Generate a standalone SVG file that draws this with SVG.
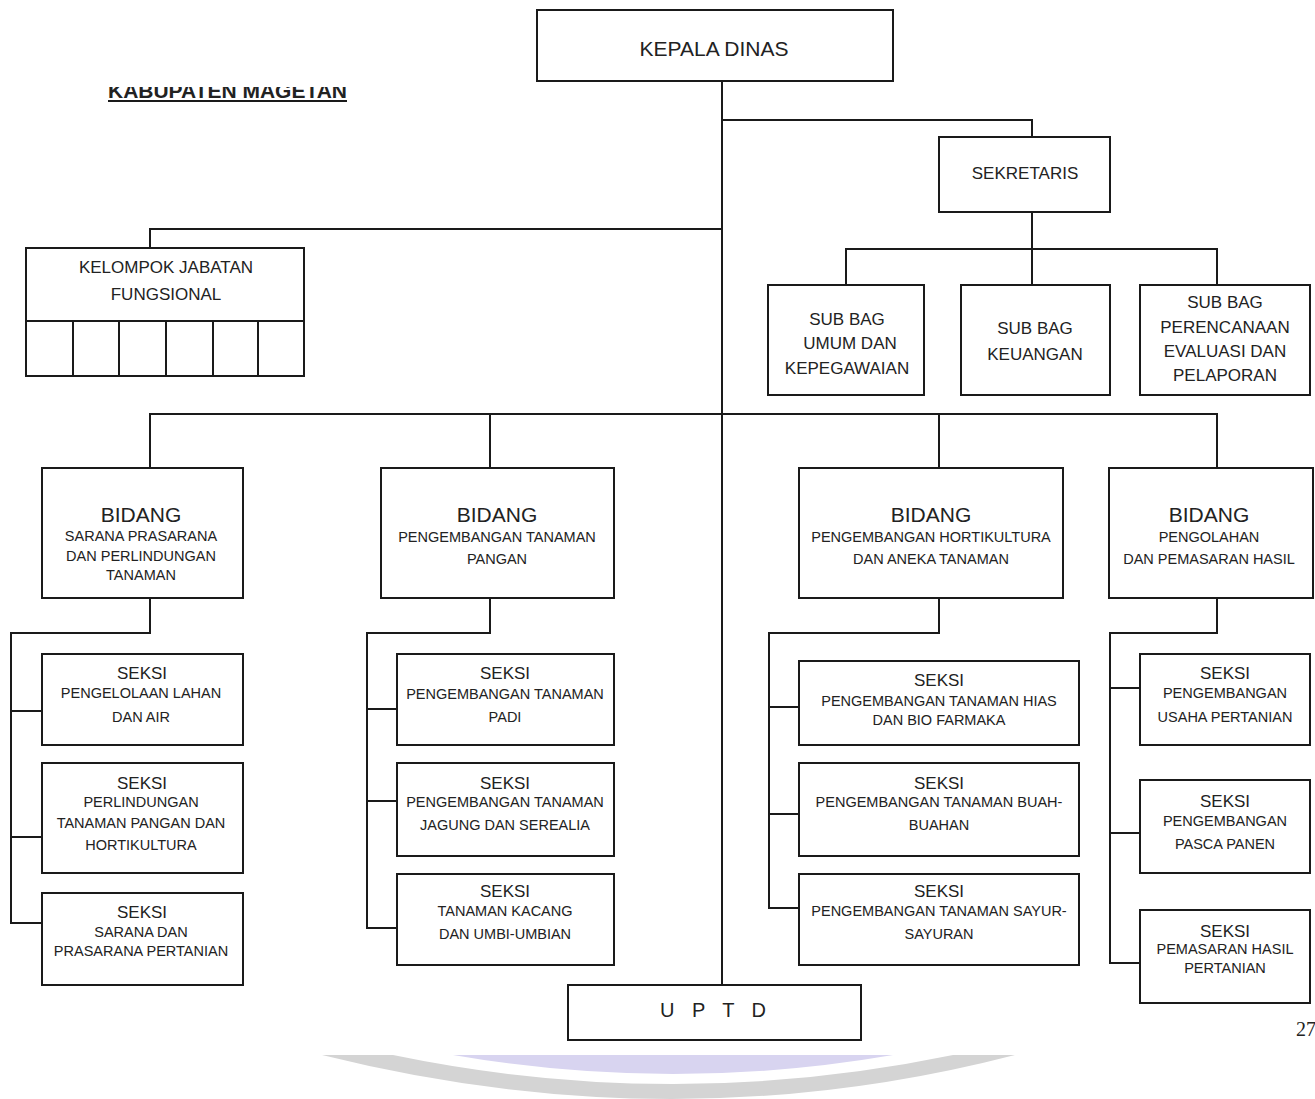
<svg xmlns="http://www.w3.org/2000/svg" width="1315" height="1099" viewBox="0 0 1315 1099">
<style>
.box{fill:#fff;stroke:#1a1a1a;stroke-width:2}
.ln{fill:none;stroke:#1a1a1a;stroke-width:2}
text{font-family:"Liberation Sans",Arial,sans-serif;text-anchor:middle;fill:#222}
.k{font-size:21px}
.sb{font-size:17px}
.h{font-size:21px}
.s{font-size:17px}
.m{font-size:14.5px}
</style>
<defs>
<clipPath id="tclip"><rect x="100" y="87" width="260" height="17"/></clipPath>
</defs>
<rect width="1315" height="1099" fill="#fff"/>

<g id="title" clip-path="url(#tclip)">
<text x="108" y="98" textLength="239" lengthAdjust="spacingAndGlyphs" style="text-anchor:start;font-size:21px;font-weight:bold" fill="#222">KABUPATEN MAGETAN</text>
<line x1="108" y1="101" x2="347" y2="101" class="ln"/>
</g>

<g id="connectors">
<path class="ln" d="M722,81 V985"/>
<path class="ln" d="M722,120 H1032 V137"/>
<path class="ln" d="M1032,212 V285"/>
<path class="ln" d="M846,285 V249 H1217 V285"/>
<path class="ln" d="M722,229 H150 V248"/>
<path class="ln" d="M150,468 V414 H1217 V468"/>
<path class="ln" d="M490,414 V468"/>
<path class="ln" d="M939,414 V468"/>
<path class="ln" d="M150,598 V633 H11 V923 H42"/>
<path class="ln" d="M11,711 H42 M11,837 H42"/>
<path class="ln" d="M490,598 V633 H367 V928 H397"/>
<path class="ln" d="M367,709 H397 M367,801 H397"/>
<path class="ln" d="M939,598 V633 H769 V908 H799"/>
<path class="ln" d="M769,707 H799 M769,814 H799"/>
<path class="ln" d="M1217,598 V633 H1110 V963 H1140"/>
<path class="ln" d="M1110,688 H1140 M1110,833 H1140"/>
</g>

<g id="kepala-dinas">
<rect class="box" x="537" y="10" width="356" height="71"/>
<text class="k" x="714" y="56">KEPALA DINAS</text>
</g>

<g id="sekretaris">
<rect class="box" x="939" y="137" width="171" height="75"/>
<text class="sb" x="1025" y="179">SEKRETARIS</text>
</g>

<g id="subbag-umum">
<rect class="box" x="768" y="285" width="156" height="110"/>
<text class="sb" x="847" y="325">SUB BAG</text>
<text class="sb" x="850" y="349">UMUM DAN</text>
<text class="sb" x="847" y="374">KEPEGAWAIAN</text>
</g>

<g id="subbag-keuangan">
<rect class="box" x="961" y="285" width="149" height="110"/>
<text class="sb" x="1035" y="334">SUB BAG</text>
<text class="sb" x="1035" y="360">KEUANGAN</text>
</g>

<g id="subbag-perencanaan">
<rect class="box" x="1140" y="285" width="170" height="110"/>
<text class="sb" x="1225" y="308">SUB BAG</text>
<text class="sb" x="1225" y="333">PERENCANAAN</text>
<text class="sb" x="1225" y="357">EVALUASI DAN</text>
<text class="sb" x="1225" y="381">PELAPORAN</text>
</g>

<g id="kelompok-jabatan">
<rect class="box" x="26" y="248" width="278" height="128"/>
<path class="ln" d="M26,321 H304 M73,321 V376 M119,321 V376 M166,321 V376 M213,321 V376 M258,321 V376"/>
<text class="sb" x="166" y="273">KELOMPOK JABATAN</text>
<text class="sb" x="166" y="300">FUNGSIONAL</text>
</g>

<g id="bidang-sarana">
<rect class="box" x="42" y="468" width="201" height="130"/>
<text class="h" x="141" y="522">BIDANG</text>
<text class="m" x="141" y="541">SARANA PRASARANA</text>
<text class="m" x="141" y="561">DAN PERLINDUNGAN</text>
<text class="m" x="141" y="580">TANAMAN</text>
</g>

<g id="bidang-pangan">
<rect class="box" x="381" y="468" width="233" height="130"/>
<text class="h" x="497" y="522">BIDANG</text>
<text class="m" x="497" y="542">PENGEMBANGAN TANAMAN</text>
<text class="m" x="497" y="564">PANGAN</text>
</g>

<g id="bidang-hortikultura">
<rect class="box" x="799" y="468" width="264" height="130"/>
<text class="h" x="931" y="522">BIDANG</text>
<text class="m" x="931" y="542">PENGEMBANGAN HORTIKULTURA</text>
<text class="m" x="931" y="564">DAN ANEKA TANAMAN</text>
</g>

<g id="bidang-pengolahan">
<rect class="box" x="1109" y="468" width="204" height="130"/>
<text class="h" x="1209" y="522">BIDANG</text>
<text class="m" x="1209" y="542">PENGOLAHAN</text>
<text class="m" x="1209" y="564">DAN PEMASARAN HASIL</text>
</g>

<g id="seksi-lahan-air">
<rect class="box" x="42" y="654" width="201" height="91"/>
<text class="s" x="142" y="679">SEKSI</text>
<text class="m" x="141" y="698">PENGELOLAAN LAHAN</text>
<text class="m" x="141" y="722">DAN AIR</text>
</g>
<g id="seksi-perlindungan">
<rect class="box" x="42" y="763" width="201" height="110"/>
<text class="s" x="142" y="789">SEKSI</text>
<text class="m" x="141" y="807">PERLINDUNGAN</text>
<text class="m" x="141" y="828">TANAMAN PANGAN DAN</text>
<text class="m" x="141" y="850">HORTIKULTURA</text>
</g>
<g id="seksi-sarana">
<rect class="box" x="42" y="893" width="201" height="92"/>
<text class="s" x="142" y="918">SEKSI</text>
<text class="m" x="141" y="937">SARANA DAN</text>
<text class="m" x="141" y="956">PRASARANA PERTANIAN</text>
</g>

<g id="seksi-padi">
<rect class="box" x="397" y="654" width="217" height="91"/>
<text class="s" x="505" y="679">SEKSI</text>
<text class="m" x="505" y="699">PENGEMBANGAN TANAMAN</text>
<text class="m" x="505" y="722">PADI</text>
</g>
<g id="seksi-jagung">
<rect class="box" x="397" y="763" width="217" height="93"/>
<text class="s" x="505" y="789">SEKSI</text>
<text class="m" x="505" y="807">PENGEMBANGAN TANAMAN</text>
<text class="m" x="505" y="830">JAGUNG DAN SEREALIA</text>
</g>
<g id="seksi-kacang">
<rect class="box" x="397" y="874" width="217" height="91"/>
<text class="s" x="505" y="897">SEKSI</text>
<text class="m" x="505" y="916">TANAMAN KACANG</text>
<text class="m" x="505" y="939">DAN UMBI-UMBIAN</text>
</g>

<g id="seksi-hias">
<rect class="box" x="799" y="661" width="280" height="84"/>
<text class="s" x="939" y="686">SEKSI</text>
<text class="m" x="939" y="706">PENGEMBANGAN TANAMAN HIAS</text>
<text class="m" x="939" y="725">DAN BIO FARMAKA</text>
</g>
<g id="seksi-buah">
<rect class="box" x="799" y="763" width="280" height="93"/>
<text class="s" x="939" y="789">SEKSI</text>
<text class="m" x="939" y="807">PENGEMBANGAN TANAMAN BUAH-</text>
<text class="m" x="939" y="830">BUAHAN</text>
</g>
<g id="seksi-sayur">
<rect class="box" x="799" y="874" width="280" height="91"/>
<text class="s" x="939" y="897">SEKSI</text>
<text class="m" x="939" y="916">PENGEMBANGAN TANAMAN SAYUR-</text>
<text class="m" x="939" y="939">SAYURAN</text>
</g>

<g id="seksi-usaha">
<rect class="box" x="1140" y="654" width="170" height="91"/>
<text class="s" x="1225" y="679">SEKSI</text>
<text class="m" x="1225" y="698">PENGEMBANGAN</text>
<text class="m" x="1225" y="722">USAHA PERTANIAN</text>
</g>
<g id="seksi-pasca">
<rect class="box" x="1140" y="780" width="170" height="93"/>
<text class="s" x="1225" y="807">SEKSI</text>
<text class="m" x="1225" y="826">PENGEMBANGAN</text>
<text class="m" x="1225" y="849">PASCA PANEN</text>
</g>
<g id="seksi-pemasaran">
<rect class="box" x="1140" y="910" width="170" height="93"/>
<text class="s" x="1225" y="937">SEKSI</text>
<text class="m" x="1225" y="954">PEMASARAN HASIL</text>
<text class="m" x="1225" y="973">PERTANIAN</text>
</g>

<g id="uptd">
<rect class="box" x="568" y="985" width="293" height="55"/>
<text x="716" y="1017" style="font-size:20px;letter-spacing:6px">U P T D</text>
</g>

<text x="1296" y="1036" style="text-anchor:start;font-family:'Liberation Serif',serif;font-size:20px" fill="#222">27</text>

<g id="decoration">
<path d="M322,1055 H1015 Q675,1143 322,1055 Z" fill="#d4d4d4"/>
<path d="M393,1055 H953 Q673,1113 393,1055 Z" fill="#fff"/>
<path d="M453,1055 H893 Q673,1093 453,1055 Z" fill="#d8d4f0"/>
</g>
</svg>
